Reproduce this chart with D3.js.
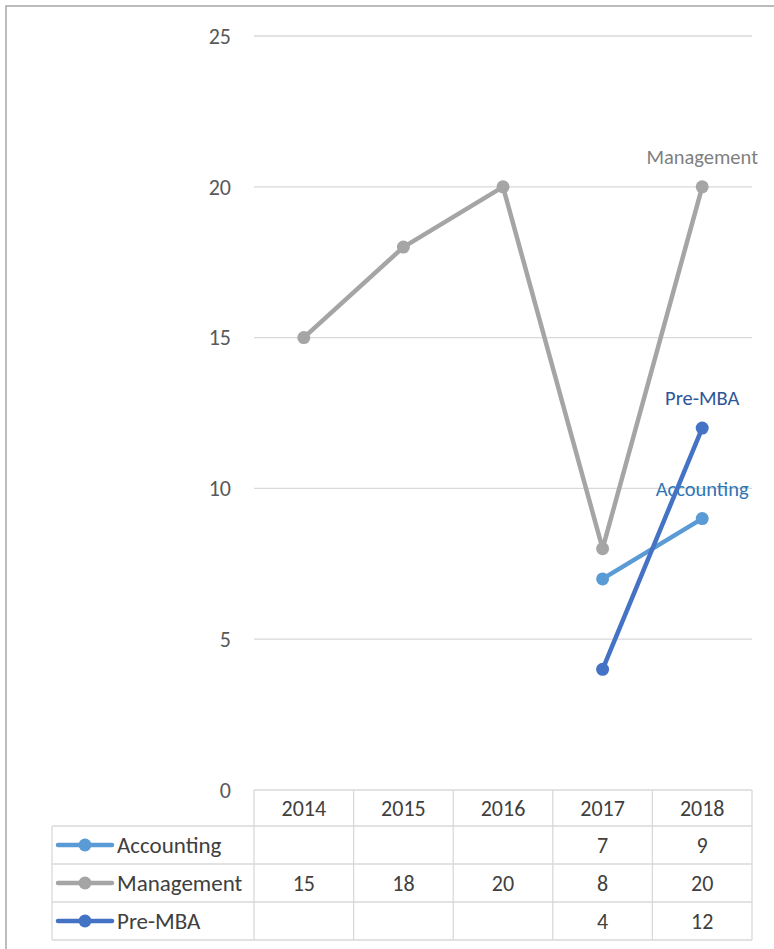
<!DOCTYPE html>
<html><head><meta charset="utf-8">
<script src="https://cdn.jsdelivr.net/npm/d3@7"></script>
<style>body{margin:0;background:#fff}svg{display:block}text{font-family:Carlito,Calibri,Lato,sans-serif}</style>
</head><body>
<svg id="c" width="774" height="949"></svg>
<script>
const years = ["2014","2015","2016","2017","2018"];
const yTicks = [0,5,10,15,20,25];
const accounting = [null,null,null,7,9];
const management = [15,18,20,8,20];
const preMBA = [null,null,null,4,12];
const seriesNames = ["Accounting","Management","Pre-MBA"];
const seriesColors = ["#5B9BD5","#A5A5A5","#4472C4"];
const labelColors = ["#2E75B6","#7F7F7F","#2F5597"];
const series = [accounting, management, preMBA];

const svg = d3.select("#c");
// outer border
svg.append("rect").attr("x",6).attr("y",6).attr("width",800).attr("height",960)
  .attr("fill","none").attr("stroke","#A6A6A6").attr("stroke-width",1.5);

const x = d3.scaleBand().domain(years).range([254,752]);
const y = d3.scaleLinear().domain([0,25]).range([790,36]);

// gridlines
svg.append("g").selectAll("line").data(yTicks.filter(d=>d>0)).join("line")
  .attr("x1",254).attr("x2",752).attr("y1",d=>y(d)).attr("y2",d=>y(d))
  .attr("stroke","#D9D9D9").attr("stroke-width",1.3);
// y labels
svg.append("g").selectAll("text").data(yTicks).join("text")
  .attr("x",231).attr("y",d=>y(d)).attr("dy","0.35em").attr("text-anchor","end")
  .attr("font-size",22).attr("fill","#595959").text(d=>d);

// lines
const line = d3.line().defined(d=>d.v!=null).x(d=>x(d.k)+x.bandwidth()/2).y(d=>y(d.v));
series.forEach((s,i)=>{
  const pts = s.map((v,j)=>({k:years[j],v}));
  svg.append("path").datum(pts).attr("d",line).attr("fill","none")
    .attr("stroke",seriesColors[i]).attr("stroke-width",4.5).attr("stroke-linejoin","round");
  svg.append("g").selectAll("circle").data(pts.filter(d=>d.v!=null)).join("circle")
    .attr("cx",d=>x(d.k)+x.bandwidth()/2).attr("cy",d=>y(d.v)).attr("r",6.5)
    .attr("fill",seriesColors[i]);
  const last = pts[pts.length-1];
  svg.append("text").attr("x",x(last.k)+x.bandwidth()/2).attr("y",y(last.v)-30)
    .attr("dy","0.35em").attr("text-anchor","middle").attr("font-size",20.5)
    .attr("fill",labelColors[i]).text(seriesNames[i]);
});

// data table
const rowTops = [790,826,864,902,940];
const tbl = svg.append("g");
const gc = "#D9D9D9";
tbl.append("line").attr("x1",254).attr("x2",752).attr("y1",790).attr("y2",790).attr("stroke",gc).attr("stroke-width",1.3);
[826,864,902,940].forEach(yy=>tbl.append("line").attr("x1",52).attr("x2",752).attr("y1",yy).attr("y2",yy).attr("stroke",gc).attr("stroke-width",1.3));
years.forEach((yr,j)=>{
  const x0 = x(yr);
  tbl.append("line").attr("x1",x0).attr("x2",x0).attr("y1",790).attr("y2",940).attr("stroke",gc).attr("stroke-width",1.3);
  tbl.append("text").attr("x",x0+x.bandwidth()/2).attr("y",808).attr("dy","0.35em")
    .attr("text-anchor","middle").attr("font-size",22).attr("fill","#404040").text(yr);
});
tbl.append("line").attr("x1",752).attr("x2",752).attr("y1",790).attr("y2",940).attr("stroke",gc).attr("stroke-width",1.3);
tbl.append("line").attr("x1",52).attr("x2",52).attr("y1",826).attr("y2",940).attr("stroke",gc).attr("stroke-width",1.3);
series.forEach((s,i)=>{
  const cy = (rowTops[i+1]+rowTops[i+2])/2;
  tbl.append("line").attr("x1",58).attr("x2",112).attr("y1",cy).attr("y2",cy)
    .attr("stroke",seriesColors[i]).attr("stroke-width",4.5).attr("stroke-linecap","round");
  tbl.append("circle").attr("cx",85).attr("cy",cy).attr("r",6.5).attr("fill",seriesColors[i]);
  tbl.append("text").attr("x",117).attr("y",cy).attr("dy","0.35em").attr("font-size",23)
    .attr("fill","#404040").text(seriesNames[i]);
  s.forEach((v,j)=>{
    if(v==null) return;
    tbl.append("text").attr("x",x(years[j])+x.bandwidth()/2).attr("y",cy).attr("dy","0.35em")
      .attr("text-anchor","middle").attr("font-size",22).attr("fill","#404040").text(v);
  });
});
</script>
</body></html>
